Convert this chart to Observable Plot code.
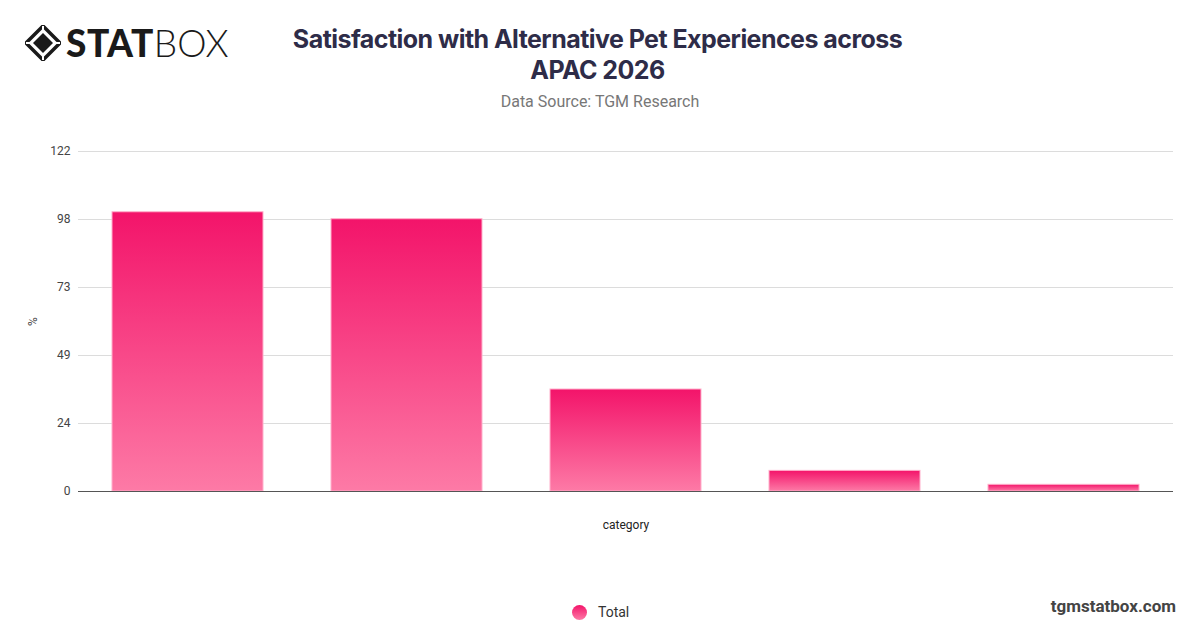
<!DOCTYPE html>
<html>
<head>
<meta charset="utf-8">
<script src="https://cdn.jsdelivr.net/npm/d3@7"></script>
<script src="https://cdn.jsdelivr.net/npm/@observablehq/plot@0.6"></script>
<style>
  html, body { margin: 0; padding: 0; background: #fff; }
  #root { position: relative; width: 1200px; height: 628px; overflow: hidden; font-family: Roboto, "Noto Sans", sans-serif; }
  .abs { position: absolute; }
  #title { left: 0; width: 1195px; top: 24px; text-align: center; font-family: Inter, Roboto, sans-serif; font-weight: 700; font-size: 25px; line-height: 31px; color: #2e2c48; letter-spacing: -0.55px; }
  #subtitle { left: 0; width: 1200px; top: 92px; text-align: center; font-size: 16px; color: #777; }
  #chart { left: 0; top: 130px; }
  #legend { left: 572px; top: 604px; font-size: 14px; color: #333; display: flex; align-items: center; }
  #legend .dot { width: 15px; height: 15px; border-radius: 50%; background: linear-gradient(#f3146a, #fd7aa6); margin-right: 11px; }
  #footer { right: 24px; top: 596px; font-weight: 700; font-size: 17px; color: #444; }
  #logo { left: 25px; top: 20px; display: flex; align-items: center; }
  #logo .stat { font-family: Lato, Inter, sans-serif; font-weight: 900; font-size: 37px; color: #1a1a1a; letter-spacing: 0.5px; margin-left: 5px; }
  #logo .box { font-family: Lato, Inter, sans-serif; font-weight: 300; font-size: 37px; color: #1a1a1a; }
</style>
</head>
<body>
<div id="root">
  <div id="logo" class="abs">
    <svg width="36" height="36" viewBox="0 0 36 36">
      <path d="M18 1 L35 18 L18 35 L1 18 Z" fill="none" stroke="#1a1a1a" stroke-width="3.5"/>
      <path d="M18 8 L28 18 L18 28 L8 18 Z" fill="#1a1a1a"/>
      <path d="M18 1 L18 8 M35 18 L28 18 M18 35 L18 28 M1 18 L8 18" stroke="#fff" stroke-width="2"/>
    </svg>
    <span class="stat">STAT</span><span class="box">BOX</span>
  </div>
  <div id="title" class="abs">Satisfaction with Alternative Pet Experiences across<br>APAC 2026</div>
  <div id="subtitle" class="abs">Data Source: TGM Research</div>
  <div id="chart" class="abs"></div>
  <div id="legend" class="abs"><div class="dot"></div><span>Total</span></div>
  <div id="footer" class="abs">tgmstatbox.com</div>
</div>
<script>
const categories = ["A", "B", "C", "D", "E"];
const values = [100.2, 97.7, 36.6, 7.4, 2.4];
const yTicks = [0, 24.4, 48.8, 73.2, 97.6, 122];
const seriesName = "Total";

const data = categories.map((c, i) => ({category: c, value: values[i], series: seriesName}));

const chart = Plot.plot({
  width: 1200,
  height: 430,
  marginTop: 21,
  marginBottom: 69,
  marginLeft: 78,
  marginRight: 27,
  style: {fontFamily: "Roboto, 'Noto Sans', sans-serif", fontSize: "12px", color: "#444", background: "transparent"},
  x: {domain: categories, paddingInner: 0.31, paddingOuter: 0.155, label: null},
  y: {domain: [0, 122], label: null},
  marks: [
    Plot.gridY(yTicks, {stroke: "#dcdcdc", strokeOpacity: 1}),
    Plot.axisY({ticks: yTicks, tickFormat: d => Math.round(d), tickSize: 0, tickPadding: 8, label: "%", labelAnchor: "center", labelOffset: 50, labelArrow: "none", fontSize: 12}),
    Plot.axisX({ticks: [], label: "category", labelAnchor: "center", labelOffset: 37, labelArrow: "none", fontSize: 12, color: "#222"}),
    Plot.barY(data, {x: "category", y: "value", fill: "url(#barGrad)", stroke: "#ffb0cb", strokeWidth: 1}),
    Plot.ruleY([0], {stroke: "#555", strokeWidth: 1.2})
  ]
});

const ns = "http://www.w3.org/2000/svg";
const defs = document.createElementNS(ns, "defs");
defs.innerHTML = '<linearGradient id="barGrad" x1="0" y1="0" x2="0" y2="1"><stop offset="0" stop-color="#f3146a"/><stop offset="1" stop-color="#fd7aa6"/></linearGradient>';
chart.insertBefore(defs, chart.firstChild);
document.getElementById("chart").appendChild(chart);
</script>
</body>
</html>
